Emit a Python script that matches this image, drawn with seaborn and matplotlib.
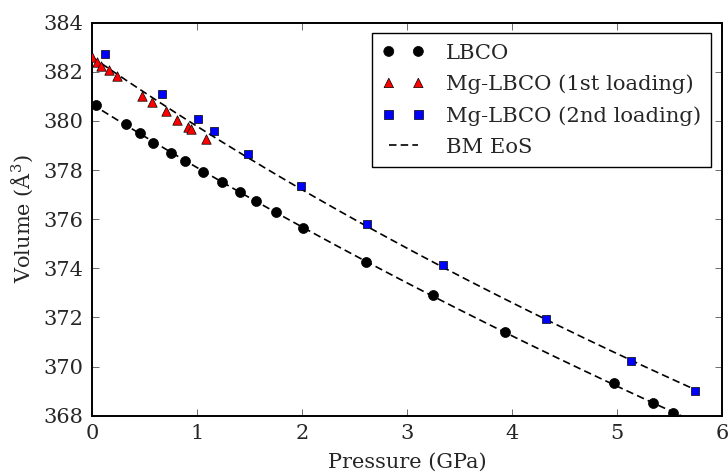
import numpy as np
import pandas as pd
import matplotlib
matplotlib.use("Agg")
import matplotlib.pyplot as plt
import seaborn as sns

# Measured unit-cell volumes under pressure
lbco_p = [0.035, 0.321, 0.46, 0.578, 0.753, 0.889, 1.06, 1.236, 1.407, 1.566,
          1.753, 2.013, 2.608, 3.243, 3.932, 4.967, 5.339, 5.533]
lbco_v = [380.64, 379.86, 379.50, 379.11, 378.69, 378.36, 377.92, 377.51, 377.10,
          376.73, 376.28, 375.64, 374.27, 372.90, 371.42, 369.32, 368.51, 368.11]

mg1_p = [0.003, 0.045, 0.083, 0.165, 0.241, 0.474, 0.575, 0.70, 0.813, 0.918, 0.941, 1.09]
mg1_v = [382.59, 382.41, 382.25, 382.07, 381.83, 381.03, 380.78, 380.40, 380.03,
         379.75, 379.68, 379.26]

mg2_p = [0.121, 0.670, 1.013, 1.158, 1.488, 1.995, 2.620, 3.338, 4.323, 5.133, 5.746]
mg2_v = [382.73, 381.08, 380.09, 379.61, 378.67, 377.34, 375.79, 374.13, 371.95,
         370.23, 369.02]

x_ticks = [0, 1, 2, 3, 4, 5, 6]
y_ticks = [368, 370, 372, 374, 376, 378, 380, 382, 384]


def bm3_pressure(v, v0, k0, kp):
    """Third-order Birch-Murnaghan equation of state, P(V)."""
    x = (v0 / np.asarray(v, float)) ** (2.0 / 3.0)
    return 1.5 * k0 * (x ** 3.5 - x ** 2.5) * (1.0 + 0.75 * (kp - 4.0) * (x - 1.0))


def fit_bm3(p, v):
    """Least-squares BM3 fit: linear in (K0, K0*(K'-4)) for each trial V0."""
    p = np.asarray(p, float)
    v = np.asarray(v, float)
    best = None
    for v0 in np.linspace(v.max() - 1.0, v.max() + 1.0, 2001):
        x = (v0 / v) ** (2.0 / 3.0)
        f = 1.5 * (x ** 3.5 - x ** 2.5)
        g = 0.75 * (x - 1.0)
        a = np.column_stack([f, f * g])
        coef, *_ = np.linalg.lstsq(a, p, rcond=None)
        res = np.sum((a @ coef - p) ** 2)
        if best is None or res < best[0]:
            best = (res, v0, coef[0], 4.0 + coef[1] / coef[0])
    return best[1:]


def eos_curve(params, p_max):
    v0, k0, kp = params
    vv = np.linspace(v0, v0 - 20, 4000)
    pp = bm3_pressure(vv, v0, k0, kp)
    keep = (pp >= 0) & (pp <= p_max)
    return pd.DataFrame({"P": pp[keep], "V": vv[keep]})


lbco_fit = fit_bm3(lbco_p, lbco_v)
mg_fit = fit_bm3(mg1_p + mg2_p, mg1_v + mg2_v)
curve_lbco = eos_curve(lbco_fit, 5.75)
curve_mg = eos_curve(mg_fit, 5.75)

sns.set_theme(style="ticks")
plt.rcParams["font.family"] = ["DejaVu Serif"]
plt.rcParams["mathtext.fontset"] = "dejavuserif"

fig, ax = plt.subplots(figsize=(7.28, 4.73), dpi=100)
fig.subplots_adjust(left=0.1264, right=0.9918, top=0.952, bottom=0.1211)

dash = (0, (4.5, 2.5))
sns.lineplot(data=curve_lbco, x="P", y="V", sort=False, estimator=None, ax=ax,
             color="black", lw=1.2, linestyle=dash, label="BM EoS", zorder=2)
sns.lineplot(data=curve_mg, x="P", y="V", sort=False, estimator=None, ax=ax,
             color="black", lw=1.2, linestyle=dash, zorder=2)

sns.scatterplot(x=lbco_p, y=lbco_v, ax=ax, marker="o", s=7.2 ** 2, color="black",
                edgecolor="black", linewidth=0.5, label="LBCO", zorder=3)
sns.scatterplot(x=mg1_p, y=mg1_v, ax=ax, marker="^", s=6.8 ** 2, color="red",
                edgecolor="black", linewidth=0.5, label="Mg-LBCO (1st loading)", zorder=3)
sns.scatterplot(x=mg2_p, y=mg2_v, ax=ax, marker="s", s=6.4 ** 2, color="blue",
                edgecolor="black", linewidth=0.5, label="Mg-LBCO (2nd loading)", zorder=3)

ax.set_xlim(0, 6)
ax.set_ylim(368, 384)
ax.set_xticks(x_ticks)
ax.set_yticks(y_ticks)
ax.set_xlabel("Pressure (GPa)", fontsize=15, labelpad=7)
ax.set_ylabel(r"Volume ($\mathrm{\AA}^3$)", fontsize=15, labelpad=6)
ax.tick_params(direction="in", length=5, width=0.6, labelsize=15, pad=6,
               top=True, right=True, color="#555555")
for sp in ax.spines.values():
    sp.set_linewidth(1.4)
    sp.set_color("black")

handles, labels = ax.get_legend_handles_labels()
order = [labels.index(l) for l in ["LBCO", "Mg-LBCO (1st loading)",
                                   "Mg-LBCO (2nd loading)", "BM EoS"]]
leg = ax.legend([handles[i] for i in order], [labels[i] for i in order],
                loc="upper right", fontsize=15.2, scatterpoints=2, scatteryoffsets=[0.5],
                numpoints=2, handlelength=2.0, handletextpad=1.0, labelspacing=0.56,
                borderpad=0.5, borderaxespad=0.5, fancybox=False, frameon=True,
                framealpha=1.0, edgecolor="black")
leg.get_frame().set_linewidth(1.0)

fig.savefig("out.png", dpi=100)
